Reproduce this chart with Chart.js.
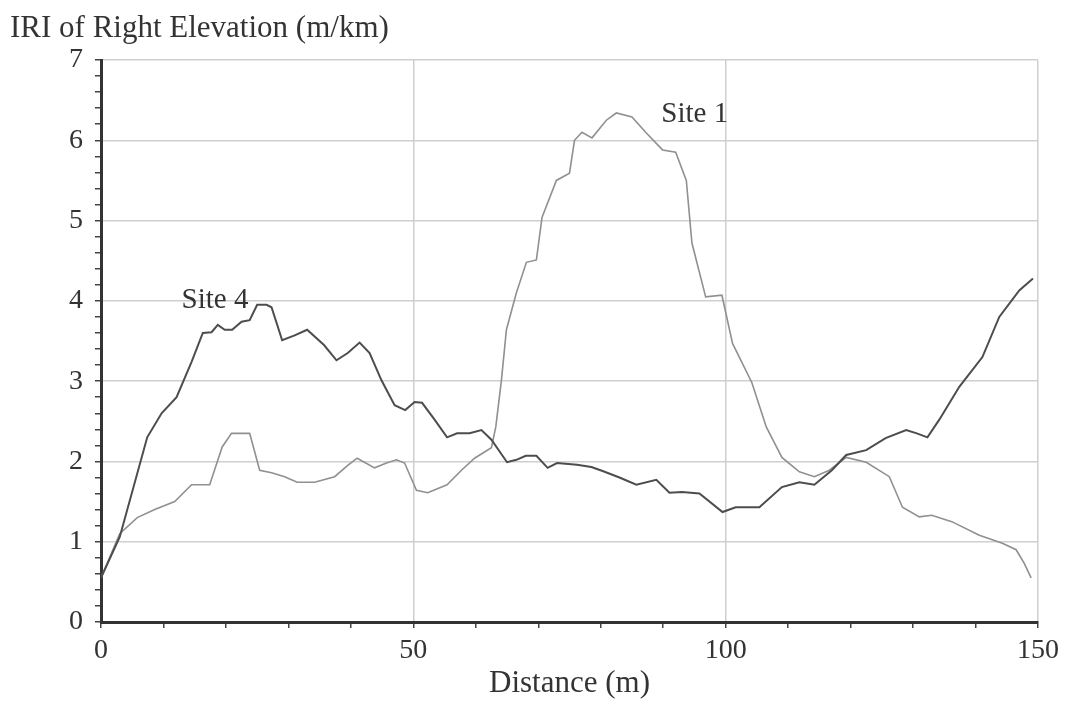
<!DOCTYPE html>
<html lang="en">

<head>
    <meta charset="UTF-8">
    <title>IRI of Right Elevation</title>
    <script src="https://cdn.jsdelivr.net/npm/chart.js"></script>
    <style>
        body {
            margin: 0;
            background-color: #ffffff;
        }

        .chart-container {
            width: 1067px;
            height: 702px;
        }
    </style>
</head>

<body>
    <div class="chart-container">
        <canvas id="iriChart"></canvas>
    </div>

    <script>
        // distances (m) and IRI values (m/km)
        const site4Distance = [0, 3, 7.4, 9.7, 12.1, 14.5, 16.3, 17.7, 18.7, 19.8, 21, 22.5, 23.8, 25, 26.5, 27.3, 29, 31, 33, 35.7, 37.7, 39.5, 41.4, 43, 44.9, 47, 48.7, 50.2, 51.4, 53.4, 55.4, 57, 59, 60.9, 62.5, 65, 66.5, 68, 69.7, 71.5, 73, 76.2, 78.5, 80.3, 83, 85.7, 88.9, 91, 93, 95.8, 99.5, 101.6, 105.4, 109, 111.8, 114.2, 117, 119.3, 122.5, 125.6, 128.9, 130.6, 132.3, 134.2, 137.4, 141.1, 143.8, 147, 149.2];
        const site4Iri = [0.55, 1.06, 2.3, 2.6, 2.8, 3.24, 3.6, 3.61, 3.7, 3.64, 3.64, 3.74, 3.76, 3.95, 3.95, 3.92, 3.51, 3.57, 3.64, 3.45, 3.26, 3.35, 3.48, 3.35, 3.01, 2.7, 2.64, 2.74, 2.73, 2.52, 2.3, 2.35, 2.35, 2.39, 2.27, 1.99, 2.02, 2.07, 2.07, 1.92, 1.98, 1.96, 1.93, 1.88, 1.8, 1.71, 1.77, 1.61, 1.62, 1.6, 1.37, 1.43, 1.43, 1.68, 1.74, 1.71, 1.89, 2.08, 2.14, 2.29, 2.39, 2.35, 2.3, 2.52, 2.93, 3.3, 3.8, 4.13, 4.28];

        const site1Distance = [0, 3, 5.8, 8.6, 11.8, 14.5, 17.4, 19.4, 20.9, 23.8, 25.4, 27.3, 29.4, 31.4, 34.2, 37.4, 39.5, 41, 43.8, 45.7, 47.3, 48.6, 50.5, 52.3, 55.4, 57.7, 59.8, 62.5, 63.2, 64.1, 64.9, 66.5, 68.1, 69.7, 70.6, 72.9, 75, 75.8, 77, 78.6, 80.9, 82.5, 85, 87.3, 89.9, 92, 93.7, 94.6, 96.8, 99.4, 101.1, 104.2, 106.5, 109, 111.8, 114.2, 116.6, 119.3, 122.5, 126.2, 128.3, 131, 133, 136.2, 140.6, 144.3, 146.5, 147.8, 148.9];
        const site1Iri = [0.55, 1.1, 1.3, 1.4, 1.5, 1.71, 1.71, 2.18, 2.35, 2.35, 1.89, 1.86, 1.81, 1.74, 1.74, 1.81, 1.95, 2.04, 1.92, 1.98, 2.02, 1.98, 1.64, 1.61, 1.71, 1.89, 2.04, 2.17, 2.43, 3.01, 3.64, 4.1, 4.48, 4.51, 5.04, 5.5, 5.59, 6.0, 6.1, 6.03, 6.25, 6.34, 6.29, 6.09, 5.88, 5.85, 5.5, 4.72, 4.05, 4.07, 3.47, 2.98, 2.43, 2.05, 1.87, 1.81, 1.89, 2.05, 1.99, 1.81, 1.43, 1.31, 1.33, 1.25, 1.08, 0.98, 0.9, 0.73, 0.55];

        const yMajorTicks = [0, 1, 2, 3, 4, 5, 6, 7];
        const xMajorTicks = [0, 50, 100, 150];

        const serif = "'Liberation Serif', 'DejaVu Serif', serif";

        function toPoints(xs, ys) {
            return xs.map((x, i) => ({ x: x, y: ys[i] }));
        }

        function isMajor(list, v) {
            return list.some(t => Math.abs(t - v) < 1e-6);
        }

        // axis caption at top-left and the two site labels
        const textPlugin = {
            id: 'chartText',
            afterDraw(chart) {
                const ctx = chart.ctx;
                const xs = chart.scales.x;
                const ys = chart.scales.y;
                ctx.save();
                ctx.fillStyle = '#333';
                ctx.textAlign = 'left';
                ctx.textBaseline = 'alphabetic';
                ctx.font = '31px ' + serif;
                ctx.fillText('IRI of Right Elevation (m/km)', 10, 37);
                ctx.font = '29px ' + serif;
                ctx.fillText('Site 4', xs.getPixelForValue(12.9), ys.getPixelForValue(3.91));
                ctx.fillText('Site 1', xs.getPixelForValue(89.7), ys.getPixelForValue(6.23));
                ctx.restore();
            }
        };

        new Chart(document.getElementById('iriChart'), {
            type: 'line',
            data: {
                datasets: [{
                    label: 'Site 4',
                    data: toPoints(site4Distance, site4Iri),
                    borderColor: '#4d4d4d',
                    borderWidth: 2,
                    pointRadius: 0,
                    tension: 0
                }, {
                    label: 'Site 1',
                    data: toPoints(site1Distance, site1Iri),
                    borderColor: '#909090',
                    borderWidth: 1.6,
                    pointRadius: 0,
                    tension: 0
                }]
            },
            options: {
                responsive: true,
                maintainAspectRatio: false,
                animation: false,
                layout: {
                    padding: { top: 60, right: 29, bottom: 0, left: 0 }
                },
                plugins: {
                    legend: { display: false },
                    tooltip: { enabled: false }
                },
                scales: {
                    x: {
                        type: 'linear',
                        min: 0,
                        max: 150,
                        afterFit: s => { s.height = 80; },
                        border: { color: '#333', width: 3 },
                        grid: {
                            color: c => (c.tick && c.tick.value > 0 && isMajor(xMajorTicks, c.tick.value)) ? '#cfcfcf' : 'rgba(0,0,0,0)',
                            lineWidth: 1.5,
                            tickColor: '#444',
                            tickLength: 6
                        },
                        ticks: {
                            stepSize: 10,
                            autoSkip: false,
                            maxRotation: 0,
                            padding: 6,
                            color: '#333',
                            font: { family: serif, size: 28 },
                            callback: v => isMajor(xMajorTicks, v) ? Math.round(v) : ''
                        },
                        title: {
                            display: true,
                            text: 'Distance (m)',
                            color: '#333',
                            font: { family: serif, size: 31 },
                            padding: { top: 0, bottom: 0 }
                        }
                    },
                    y: {
                        min: 0,
                        max: 7,
                        afterFit: s => { s.width = 101; },
                        border: { color: '#333', width: 3 },
                        grid: {
                            color: c => (c.tick && c.tick.value > 0 && isMajor(yMajorTicks, c.tick.value)) ? '#cfcfcf' : 'rgba(0,0,0,0)',
                            lineWidth: 1.5,
                            tickColor: '#444',
                            tickLength: 6
                        },
                        ticks: {
                            stepSize: 0.2,
                            autoSkip: false,
                            padding: 12,
                            color: '#333',
                            font: { family: serif, size: 28 },
                            callback: v => isMajor(yMajorTicks, v) ? Math.round(v) : ''
                        }
                    }
                }
            },
            plugins: [textPlugin]
        });
    </script>

</body>

</html>
